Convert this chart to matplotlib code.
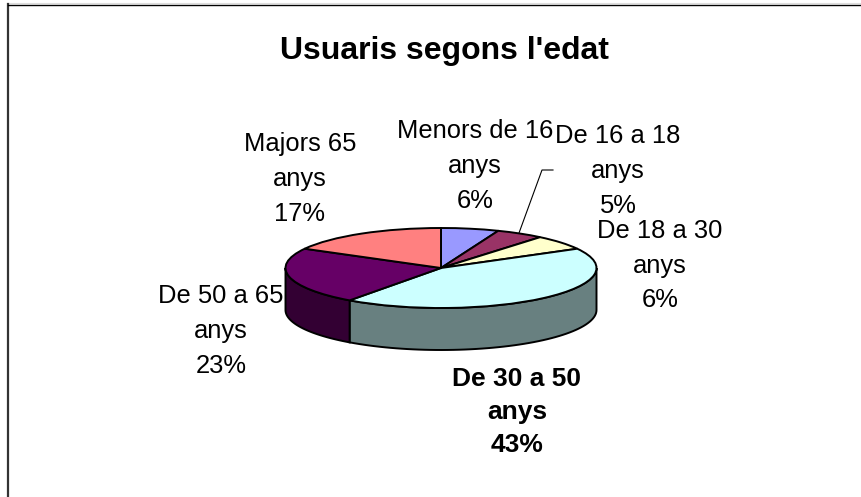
import numpy as np
import matplotlib
matplotlib.use('Agg')
import matplotlib.pyplot as plt
from matplotlib.patches import Polygon

plt.rcParams['font.family'] = ['Liberation Sans', 'DejaVu Sans']

# Data
categories = ['Menors de 16\nanys', 'De 16 a 18\nanys', 'De 18 a 30\nanys',
              'De 30 a 50\nanys', 'De 50 a 65\nanys', 'Majors 65\nanys']
values = [6, 5, 6, 43, 23, 17]
top_colors = ['#9999FF', '#993366', '#FFFFCC', '#CCFFFF', '#660066', '#FF8080']
side_colors = ['#6B6BB3', '#6B2447', '#B3B38F', '#688080', '#330033', '#B35A5A']

W, H = 862, 497
fig = plt.figure(figsize=(W / 100, H / 100), dpi=100)

# full-figure axes in pixel coordinates, y pointing down
bg = fig.add_axes([0, 0, 1, 1])
bg.set_xlim(0, W)
bg.set_ylim(H, 0)
bg.axis('off')
bg.plot([8, W], [3, 3], color='#dddddd', lw=0.8)
bg.plot([8, 8], [H, 4], color='#333333', lw=1.6)
bg.plot([8, W], [4.5, 4.5], color='black', lw=1.0)

# pie axes: unit circle stretched to the ellipse of the top face
cx, cy, rx, ry = 441, 268, 155.5, 40
depth = 42
ax = fig.add_axes([(cx - rx) / W, 1 - (cy + ry) / H, 2 * rx / W, 2 * ry / H])
wedges, _ = ax.pie(values, colors=top_colors, startangle=90, counterclock=False,
                   radius=1, wedgeprops={'edgecolor': 'black', 'linewidth': 1.4})
ax.set_aspect('auto')
ax.set_xlim(-1, 1)
ax.set_ylim(-1, 1)
for w in wedges:
    w.set_clip_on(False)

# side wall, only the part of each slice facing the viewer
fractions = np.cumsum([0] + values) / sum(values)
for i in range(len(values)):
    a0 = 90 - 360 * fractions[i]
    a1 = 90 - 360 * fractions[i + 1]
    # front of the ellipse runs over angles -180..0
    lo = max(min(a0, a1), -180)
    hi = min(max(a0, a1), 0)
    if hi <= lo:
        continue
    t = np.radians(np.linspace(lo, hi, 60))
    x = cx + rx * np.cos(t)
    y = cy + ry * np.sin(t) * -1
    pts = np.r_[np.c_[x, y], np.c_[x, y + depth][::-1]]
    bg.add_patch(Polygon(pts, closed=True, facecolor=side_colors[i], edgecolor='black', lw=1.4))

# title and labels
bg.text(444, 50.5, "Usuaris segons l'edat", ha='center', va='center',
        fontsize=23, fontweight='bold')
label_pos = [(475, 166), (618, 171), (660, 265.5), (517, 412), (221, 331), (300, 179)]
for i, (name, val) in enumerate(zip(categories, values)):
    weight = 'bold' if i == 3 else 'normal'
    size = 19 if i == 3 else 18.4
    bg.text(label_pos[i][0], label_pos[i][1], f'{name}\n{val}%', ha='center', va='center',
            fontsize=size, fontweight=weight, linespacing=1.56 if i != 3 else 1.5)

# leader line for the 16-18 slice
bg.plot([553, 542, 519], [170, 170, 233], color='black', lw=0.8)

fig.savefig('out.png', dpi=100)
